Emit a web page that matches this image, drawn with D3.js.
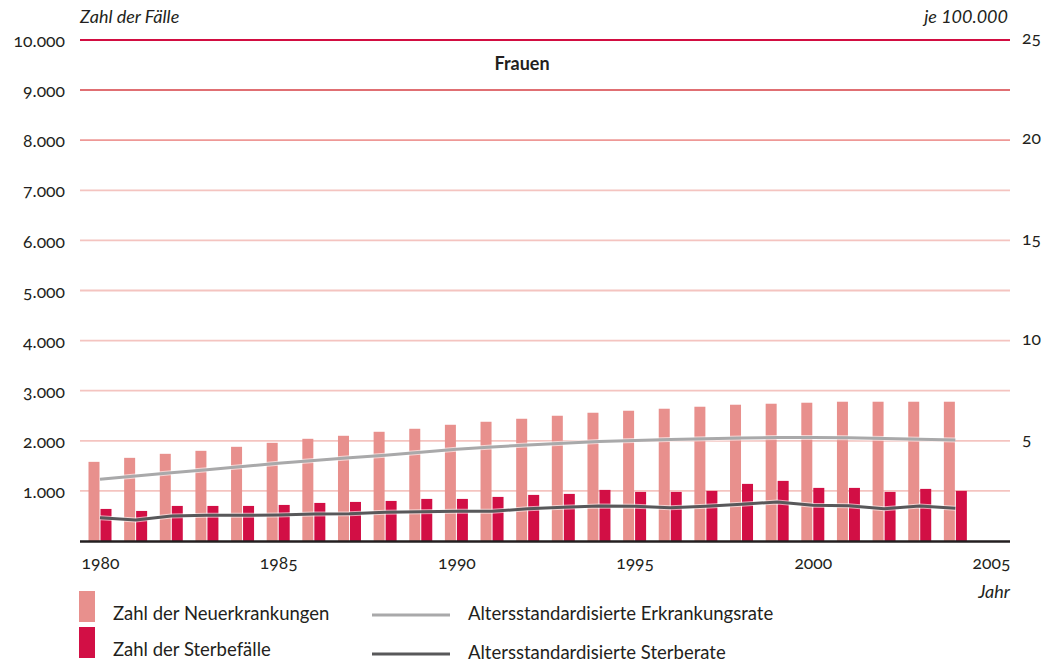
<!DOCTYPE html>
<html><head><meta charset="utf-8">
<script src="https://cdn.jsdelivr.net/npm/d3@7"></script>
<style>
body{margin:0;background:#fff;}
svg{font-family:Lato,"Open Sans",sans-serif;}
.num text{font-variant-numeric:oldstyle-nums;font-feature-settings:"onum" 1;}
</style></head>
<body><svg id="c" width="1050" height="663"></svg>
<script>
const years = [1980,1981,1982,1983,1984,1985,1986,1987,1988,1989,1990,1991,1992,1993,1994,1995,1996,1997,1998,1999,2000,2001,2002,2003,2004];
const neuerkrankungen = [1580,1660,1740,1800,1880,1960,2040,2100,2180,2240,2320,2380,2440,2500,2560,2600,2640,2680,2720,2740,2760,2780,2780,2780,2780];
const sterbefaelle = [640,600,700,700,700,720,760,780,800,840,840,880,920,940,1020,980,980,1000,1140,1200,1060,1060,980,1040,1000];
const erkrankungsrate = [3.08,3.24,3.40,3.56,3.72,3.88,4.02,4.15,4.28,4.43,4.58,4.69,4.79,4.88,4.96,5.02,5.06,5.10,5.14,5.16,5.16,5.15,5.12,5.08,5.04];
const sterberate = [1.16,1.05,1.25,1.28,1.28,1.30,1.35,1.36,1.43,1.46,1.48,1.48,1.61,1.68,1.75,1.73,1.66,1.73,1.83,1.95,1.78,1.76,1.61,1.75,1.63];
const leftTicks = [1000,2000,3000,4000,5000,6000,7000,8000,9000,10000];
const rightTicks = [5,10,15,20,25];
const xTicks = [1980,1985,1990,1995,2000,2005];
const gridColors = {10000:"#d20d41",9000:"#e06f73",8000:"#ee9896"};

const svg = d3.select("#c");
const x = d3.scaleLinear().domain([1980,2005]).range([100,991]);
const y = d3.scaleLinear().domain([0,10000]).range([541,40]);
const yR = d3.scaleLinear().domain([0,25]).range([541,40]);
const loc = d3.formatLocale({decimal:",",thousands:".",grouping:[3],currency:["","€"]});
const fmt = loc.format(",d");

// grid
svg.append("g").selectAll("line").data(leftTicks).join("line")
  .attr("x1",80).attr("x2",1010)
  .attr("y1",d=>y(d)).attr("y2",d=>y(d))
  .attr("stroke",d=>gridColors[d]||"#f4c4c0")
  .attr("stroke-width",d=>d>=9000?2:1.8);

// bars
const bw = 11;
svg.append("g").selectAll("rect").data(years).join("rect")
  .attr("x",(d)=>x(d)-bw-0.5).attr("width",bw)
  .attr("y",(d,i)=>y(neuerkrankungen[i])).attr("height",(d,i)=>y(0)-y(neuerkrankungen[i]))
  .attr("fill","#e8908d");
svg.append("g").selectAll("rect").data(years).join("rect")
  .attr("x",(d)=>x(d)+0.5).attr("width",bw)
  .attr("y",(d,i)=>y(sterbefaelle[i])).attr("height",(d,i)=>y(0)-y(sterbefaelle[i]))
  .attr("fill","#d20f45");

// lines
const line = arr => d3.line().x((d,i)=>x(years[i])).y(d=>yR(d))(arr);
svg.append("path").attr("d",line(erkrankungsrate)).attr("fill","none")
  .attr("stroke","#fff").attr("stroke-width",5).attr("opacity",0.6);
svg.append("path").attr("d",line(erkrankungsrate)).attr("fill","none")
  .attr("stroke","#a9a9aa").attr("stroke-width",3);
svg.append("path").attr("d",line(sterberate)).attr("fill","none")
  .attr("stroke","#fff").attr("stroke-width",5).attr("opacity",0.6);
svg.append("path").attr("d",line(sterberate)).attr("fill","none")
  .attr("stroke","#58585a").attr("stroke-width",3);

// baseline
svg.append("line").attr("x1",80).attr("x2",1010).attr("y1",541.5).attr("y2",541.5)
  .attr("stroke","#231f20").attr("stroke-width",2.5);

// axes
const gl = svg.append("g").attr("class","num").attr("transform","translate(80,1)")
  .call(d3.axisLeft(y).tickValues(leftTicks).tickFormat(fmt).tickSize(0).tickPadding(15));
const gr = svg.append("g").attr("class","num").attr("transform","translate(1010,-2)")
  .call(d3.axisRight(yR).tickValues(rightTicks).tickSize(0).tickPadding(12));
const gb = svg.append("g").attr("class","num").attr("transform","translate(0,541)")
  .call(d3.axisBottom(x).tickValues(xTicks).tickFormat(d3.format("d")).tickSize(0).tickPadding(16));
[gl,gr,gb].forEach(g=>{
  g.select(".domain").remove();
  g.selectAll("text").attr("fill","#231f20").style("font-size","17.5px").style("font-family","Lato,'Open Sans',sans-serif");
});

// titles
svg.append("text").attr("x",80).attr("y",23).attr("font-style","italic").attr("font-size",18)
  .attr("fill","#231f20").text("Zahl der Fälle");
svg.append("text").attr("x",1008).attr("y",23).attr("text-anchor","end").attr("font-style","italic").attr("font-size",18)
  .attr("fill","#231f20").text("je 100.000");
svg.append("text").attr("x",522).attr("y",70).attr("text-anchor","middle").attr("font-weight","bold").attr("font-size",18)
  .attr("fill","#231f20").text("Frauen");
svg.append("text").attr("x",1010).attr("y",598).attr("text-anchor","end").attr("font-style","italic").attr("font-size",18)
  .attr("fill","#231f20").text("Jahr");

// legend
const legendBars = [{label:"Zahl der Neuerkrankungen",color:"#e8908d",y:591},{label:"Zahl der Sterbefälle",color:"#d20f45",y:627}];
const lgB = svg.append("g");
lgB.selectAll("rect").data(legendBars).join("rect")
  .attr("x",79).attr("y",d=>d.y).attr("width",16).attr("height",31).attr("fill",d=>d.color);
lgB.selectAll("text").data(legendBars).join("text")
  .attr("x",113).attr("y",d=>d.y+29).attr("font-size",18.5).attr("fill","#231f20").text(d=>d.label);
const legendLines = [{label:"Altersstandardisierte Erkrankungsrate",color:"#a9a9aa",y:615},{label:"Altersstandardisierte Sterberate",color:"#58585a",y:654}];
const lgL = svg.append("g");
lgL.selectAll("line").data(legendLines).join("line")
  .attr("x1",372).attr("x2",450).attr("y1",d=>d.y).attr("y2",d=>d.y)
  .attr("stroke",d=>d.color).attr("stroke-width",3);
lgL.selectAll("text").data(legendLines).join("text")
  .attr("x",468).attr("y",d=>d.y+5).attr("font-size",18.5).attr("fill","#231f20").text(d=>d.label);
</script></body></html>
